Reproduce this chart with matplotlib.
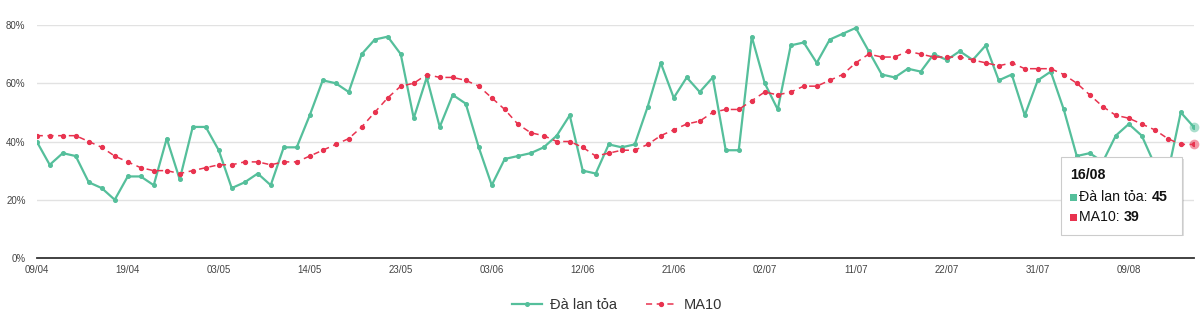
import matplotlib
matplotlib.use("Agg")
import matplotlib.pyplot as plt
import matplotlib.patches as patches
import numpy as np

plt.rcParams['font.family'] = ['Liberation Sans', 'DejaVu Sans']

# Données
tick_labels = ["09/04", "19/04", "03/05", "14/05", "23/05", "03/06", "12/06",
               "21/06", "02/07", "11/07", "22/07", "31/07", "09/08"]
last_date = "16/08"

da_lan_toa = [40, 32, 36, 35, 26, 24, 20, 28, 28, 25,
              41, 27, 45, 45, 37, 24, 26, 29, 25, 38,
              38, 49, 61, 60, 57, 70, 75, 76, 70, 48,
              62, 45, 56, 53, 38, 25, 34, 35, 36, 38,
              42, 49, 30, 29, 39, 38, 39, 52, 67, 55,
              62, 57, 62, 37, 37, 76, 60, 51, 73, 74,
              67, 75, 77, 79, 71, 63, 62, 65, 64, 70,
              68, 71, 68, 73, 61, 63, 49, 61, 64, 51,
              35, 36, 33, 42, 46, 42, 32, 29, 50, 45]

ma10 = [42, 42, 42, 42, 40, 38, 35, 33, 31, 30,
        30, 29, 30, 31, 32, 32, 33, 33, 32, 33,
        33, 35, 37, 39, 41, 45, 50, 55, 59, 60,
        63, 62, 62, 61, 59, 55, 51, 46, 43, 42,
        40, 40, 38, 35, 36, 37, 37, 39, 42, 44,
        46, 47, 50, 51, 51, 54, 57, 56, 57, 59,
        59, 61, 63, 67, 70, 69, 69, 71, 70, 69,
        69, 69, 68, 67, 66, 67, 65, 65, 65, 63,
        60, 56, 52, 49, 48, 46, 44, 41, 39, 39]

GREEN = '#55bf9b'
RED = '#e8334f'

x = np.arange(len(da_lan_toa))

fig = plt.figure(figsize=(12, 3.26), dpi=100)
ax = fig.add_axes([0.0306, 0.2086, 0.9642, 0.7147])

ax.plot(x, da_lan_toa, '-o', color=GREEN, linewidth=1.6, markersize=2.6,
        label='Đà lan tỏa', zorder=3)
ax.plot(x, ma10, '--o', color=RED, linewidth=1.1, markersize=2.8,
        dashes=(4, 3), label='MA10', zorder=3)

# points survolés
ax.plot(x[-1], da_lan_toa[-1], 'o', color=GREEN, markersize=7, alpha=0.5,
        markeredgewidth=0, zorder=4, clip_on=False)
ax.plot(x[-1], ma10[-1], 'o', color=RED, markersize=7, alpha=0.5,
        markeredgewidth=0, zorder=4, clip_on=False)

ax.set_xlim(0, len(x) - 1)
ax.set_ylim(0, 80)
ax.set_yticks([0, 20, 40, 60, 80])
ax.set_yticklabels([f'{v}%' for v in [0, 20, 40, 60, 80]])
ax.set_xticks(np.arange(0, len(x), 7)[:len(tick_labels)])
ax.set_xticklabels(tick_labels)
ax.tick_params(axis='both', length=0, labelsize=7, colors='#444444')
ax.tick_params(axis='y', pad=8)
ax.tick_params(axis='x', pad=5)

ax.grid(axis='y', color='#e2e2e2', linewidth=1)
ax.set_axisbelow(True)
for s in ['top', 'right', 'left']:
    ax.spines[s].set_visible(False)
ax.spines['bottom'].set_color('#333333')
ax.spines['bottom'].set_linewidth(1.3)

fig.legend(loc='center', bbox_to_anchor=(0.514, 0.064), ncol=2, frameon=False,
           fontsize=10.5, handlelength=2.1, columnspacing=2.0, handletextpad=0.5,
           labelcolor='#333333')

# Infobulle
W, H = 1200, 326
bx0, by0, bx1, by1 = 1061, 157, 1182, 235
shadow = patches.Rectangle((bx0 / W + 1.5 / W, 1 - by1 / H - 1.5 / H),
                           (bx1 - bx0) / W, (by1 - by0) / H,
                           transform=fig.transFigure, facecolor='#000000',
                           alpha=0.12, edgecolor='none', zorder=9)
box = patches.Rectangle((bx0 / W, 1 - by1 / H), (bx1 - bx0) / W, (by1 - by0) / H,
                        transform=fig.transFigure, facecolor='white',
                        edgecolor='#cccccc', linewidth=0.8, zorder=10)
fig.patches.extend([shadow, box])

fig.text(1070 / W, 1 - 175 / H, last_date, fontsize=10.2, fontweight='bold',
         va='center', ha='left', color='#111111', zorder=11)

renderer = fig.canvas.get_renderer()
rows = [(GREEN, 'Đà lan tỏa: ', da_lan_toa[-1], 197),
        (RED, 'MA10: ', ma10[-1], 217)]
for col, name, val, yy in rows:
    sq = patches.Rectangle((1070 / W, 1 - (yy + 3.5) / H), 7 / W, 7 / H,
                           transform=fig.transFigure, facecolor=col,
                           edgecolor='none', zorder=11)
    fig.patches.append(sq)
    t = fig.text(1079 / W, 1 - yy / H, name, fontsize=10.2, va='center',
                 ha='left', color='#111111', zorder=11)
    bb = t.get_window_extent(renderer=renderer)
    fig.text(bb.x1 / W, 1 - yy / H, str(val), fontsize=10.2, fontweight='bold',
             va='center', ha='left', color='#111111', zorder=11)

fig.savefig('out.png', dpi=100)
